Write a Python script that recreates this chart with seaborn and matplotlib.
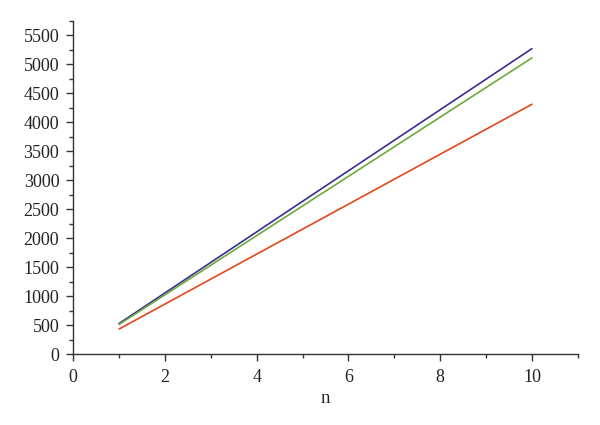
import numpy as np
import pandas as pd
import matplotlib
matplotlib.use("Agg")
import matplotlib.pyplot as plt
import seaborn as sns
from matplotlib.ticker import MultipleLocator

n = [1, 2, 3, 4, 5, 6, 7, 8, 9, 10]
blue = [527, 1054, 1581, 2108, 2635, 3162, 3689, 4216, 4743, 5270]
green = [511, 1022, 1533, 2044, 2555, 3066, 3577, 4088, 4599, 5110]
red = [431, 862, 1293, 1724, 2155, 2586, 3017, 3448, 3879, 4310]

df = pd.DataFrame({"n": n, "blue": blue, "green": green, "red": red})

sns.set_style("ticks")
plt.rcParams["font.family"] = ["Liberation Serif", "DejaVu Serif"]

fig = plt.figure(figsize=(6, 4.25), dpi=100)
ax = fig.add_axes([0.122, 0.167, 0.841, 0.784])

sns.lineplot(data=df, x="n", y="blue", color="#3b2e8e", lw=1.2, ax=ax)
sns.lineplot(data=df, x="n", y="green", color="#6aaa3c", lw=1.2, ax=ax)
sns.lineplot(data=df, x="n", y="red", color="#e2471c", lw=1.2, ax=ax)

ax.set_xlim(0, 11)
ax.set_ylim(0, 5750)
ax.xaxis.set_major_locator(MultipleLocator(2))
ax.xaxis.set_minor_locator(MultipleLocator(1))
ax.yaxis.set_major_locator(MultipleLocator(500))
ax.yaxis.set_minor_locator(MultipleLocator(250))
ax.set_xticks(np.arange(0, 11, 2))

sns.despine(ax=ax)
for s in ["left", "bottom"]:
    ax.spines[s].set_color("#333333")
    ax.spines[s].set_linewidth(1.0)
ax.tick_params(which="major", length=5, width=1, color="#333333", labelsize=13, labelcolor="#222222")
ax.tick_params(axis="x", which="major", pad=6)
ax.tick_params(axis="y", which="major", pad=5)
ax.tick_params(which="minor", length=3, width=1, color="#333333")
ax.set_xlabel("n", fontsize=13.5, color="#222222", labelpad=3)
ax.set_ylabel("")

fig.savefig("out.png", dpi=100)
